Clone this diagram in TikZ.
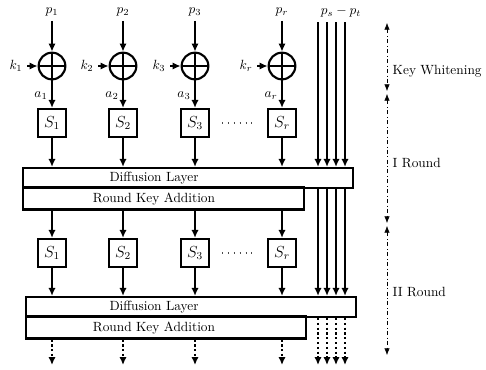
\documentclass[tikz,border=0pt]{standalone}
\usetikzlibrary{arrows.meta,positioning,calc}

\begin{document}
\begin{tikzpicture}[
    x=0.75pt, y=-0.75pt,
    wire/.style={line width=1.6pt},
    arr/.style={wire, -{Latex[length=6pt,width=5.5pt]}},
    darr/.style={arr, dotted},
    xorgate/.style={draw, circle, line width=1.6pt, minimum size=20pt, inner sep=0pt,
        path picture={\draw[line width=1.6pt] (path picture bounding box.north) -- (path picture bounding box.south)
                      (path picture bounding box.west) -- (path picture bounding box.east);}},
    sbox/.style={draw, rectangle, line width=1.6pt, minimum size=21pt, inner sep=0pt, font=\large},
    layer/.style={draw, rectangle, line width=1.6pt, inner sep=0pt},
    dots/.style={line width=0.8pt, black!70, dash pattern=on 0.8pt off 3.6pt},
    span/.style={thin, dash dot, {Latex[length=5pt,width=4pt]}-{Latex[length=5pt,width=4pt]}}
]
    \useasboundingbox (0,0) rectangle (486,369);

    % Layers of the two rounds
    \node[layer, minimum width=247.5pt, minimum height=15pt] (diff1) at (188,178) {};
    \node[layer, minimum width=210.75pt, minimum height=16.5pt] (rka1) at (163.5,198.5) {};
    \node[layer, minimum width=247.5pt, minimum height=15pt] (diff2) at (191,307) {};
    \node[layer, minimum width=210pt, minimum height=16.5pt] (rka2) at (166,327.5) {};
    \node (dl1) at (154,178) {Diffusion Layer};
    \node (kl1) at (154,199) {Round Key Addition};
    \node (dl2) at (154,307) {Diffusion Layer};
    \node (kl2) at (154,328) {Round Key Addition};

    % Columns: key whitening, S-boxes of round I and II
    \foreach \i/\x/\n in {1/52/1, 2/123/2, 3/195/3, 4/282/r} {
        \node (p\i) at (\x,12) {$p_{\n}$};
        \node[xorgate] (x\i) at (\x,66) {};
        \node (k\i) at (\x-36,66) {$k_{\n}$};
        \node (a\i) at (\x-11,96) {$a_{\n}$};
        \node[sbox] (s\i) at (\x,123) {$S_{\n}$};
        \node[sbox] (t\i) at (\x,253) {$S_{\n}$};
        \coordinate (f\i) at (\x,365);
        \draw[arr] (p\i) -- (x\i);
        \draw[arr] (k\i) -- (x\i);
        \draw[arr] (x\i) -- (s\i);
        \draw[arr] (s\i) -- (s\i |- diff1.north);
        \draw[arr] (s\i |- rka1.south) -- (t\i);
        \draw[arr] (t\i) -- (t\i |- diff2.north);
        \draw[darr] (t\i |- rka2.south) -- (f\i);
    }
    \draw[dots] ($(s3.east)+(12,0)$) -- ($(s4.west)+(-12,0)$);
    \draw[dots] ($(t3.east)+(12,0)$) -- ($(t4.west)+(-12,0)$);

    % Bits passed straight through
    \node (pst) at (341,12) {$p_s - p_t$};
    \foreach \j/\x in {1/318, 2/327, 3/336, 4/345} {
        \coordinate (w\j) at (\x,22);
        \coordinate (e\j) at (\x,365);
        \draw[arr] (w\j) -- (w\j |- diff1.north);
        \draw[arr] (w\j |- diff1.south) -- (w\j |- diff2.north);
        \draw[darr] (w\j |- diff2.south) -- (e\j);
    }

    % Stage spans on the right
    \coordinate (m0) at (387,23);
    \coordinate (m1) at (387,91);
    \coordinate (m2) at (387,94);
    \coordinate (m3) at (387,223);
    \coordinate (m4) at (387,226);
    \coordinate (m5) at (387,355);
    \draw[span] (m0) -- (m1);
    \draw[span] (m2) -- (m3);
    \draw[span] (m4) -- (m5);
    \node[anchor=west] (kw) at (388,71) {Key Whitening};
    \node[anchor=west] (r1) at (388,163) {I Round};
    \node[anchor=west] (r2) at (388,292) {II Round};

\end{tikzpicture}
\end{document}
